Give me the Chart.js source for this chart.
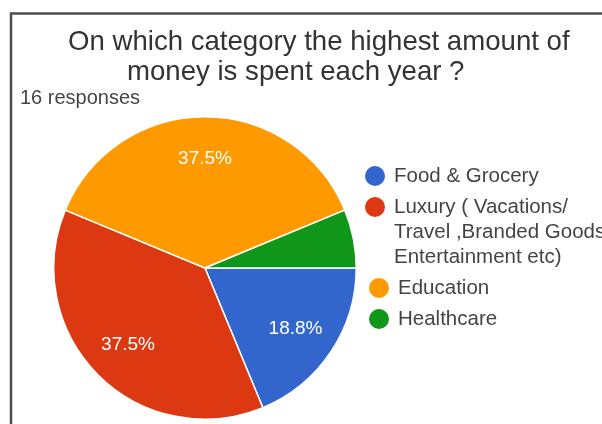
<!DOCTYPE html>
<html>
<head>
<meta charset="utf-8">
<script src="https://cdn.jsdelivr.net/npm/chart.js@4.4.1/dist/chart.umd.min.js"></script>
<style>
  html, body { margin: 0; padding: 0; background: #ffffff; }
  #wrap { position: relative; width: 602px; height: 424px; overflow: hidden; }
  canvas { display: block; }
</style>
</head>
<body>
<div id="wrap"><canvas id="pie" width="602" height="424"></canvas></div>
<script>
// Survey question and answers
const titleLines = ['On which category the highest amount of', 'money is spent each year ?'];
const responseNote = '16 responses';
const categories = [
  'Food & Grocery',
  ['Luxury ( Vacations/', 'Travel ,Branded Goods/', 'Entertainment etc)'],
  'Education',
  'Healthcare'
];
const responses = [3, 6, 6, 1];

const sliceColors = ['#3366cc', '#dc3912', '#ff9900', '#109618'];
const FONT = '"Liberation Sans", Arial, sans-serif';

// Frame, heading and response count
const framePlugin = {
  id: 'frame',
  beforeDraw(chart) {
    const ctx = chart.ctx;
    ctx.save();
    ctx.fillStyle = '#ffffff';
    ctx.fillRect(0, 0, chart.width, chart.height);
    ctx.strokeStyle = '#4d4d4d';
    ctx.lineWidth = 2.5;
    ctx.beginPath();
    ctx.moveTo(11, chart.height);
    ctx.lineTo(11, 13.5);
    ctx.lineTo(chart.width, 13.5);
    ctx.stroke();

    ctx.fillStyle = '#333333';
    ctx.textBaseline = 'middle';
    ctx.textAlign = 'left';
    ctx.font = '27.6px ' + FONT;
    ctx.fillText(titleLines[0], 68, 42);
    ctx.fillText(titleLines[1], 127, 72);

    ctx.fillStyle = '#444444';
    ctx.font = '20px ' + FONT;
    ctx.fillText(responseNote, 20, 98);
    ctx.restore();
  }
};

// Percentage text inside each slice, and the legend on the right
const labelPlugin = {
  id: 'sliceText',
  afterDatasetsDraw(chart) {
    const ctx = chart.ctx;
    const meta = chart.getDatasetMeta(0);
    const values = chart.data.datasets[0].data;
    const total = values.reduce((a, b) => a + b, 0);
    ctx.save();
    ctx.fillStyle = '#ffffff';
    ctx.font = '19px ' + FONT;
    ctx.textAlign = 'center';
    ctx.textBaseline = 'middle';
    meta.data.forEach((arc, i) => {
      const share = values[i] / total;
      if (share < 0.1) return;
      const mid = (arc.startAngle + arc.endAngle) / 2;
      const r = arc.outerRadius * 0.72;
      ctx.fillText((share * 100).toFixed(1) + '%', arc.x + Math.cos(mid) * r, arc.y + Math.sin(mid) * r);
    });

    // legend
    ctx.textAlign = 'left';
    ctx.font = '20.5px ' + FONT;
    let y = 176;
    chart.data.labels.forEach((label, i) => {
      const lines = Array.isArray(label) ? label : [label];
      const mx = i < 2 ? 375 : 379;
      const tx = i < 2 ? 394 : 398;
      ctx.fillStyle = sliceColors[i];
      ctx.beginPath();
      ctx.arc(mx, y, 10, 0, Math.PI * 2);
      ctx.fill();
      ctx.fillStyle = '#444444';
      lines.forEach((line, k) => {
        ctx.fillText(line, tx, y + k * 25);
      });
      y += (lines.length - 1) * 25 + 31;
    });
    ctx.restore();
  }
};

new Chart(document.getElementById('pie'), {
  type: 'pie',
  data: {
    labels: categories,
    datasets: [{
      data: responses,
      backgroundColor: sliceColors,
      borderColor: '#ffffff',
      borderWidth: 1.5
    }]
  },
  options: {
    responsive: false,
    animation: false,
    rotation: 90,
    layout: { padding: { left: 53, right: 245, top: 116, bottom: 4 } },
    plugins: {
      legend: { display: false },
      title: { display: false },
      tooltip: { enabled: false }
    }
  },
  plugins: [framePlugin, labelPlugin]
});
</script>
</body>
</html>
